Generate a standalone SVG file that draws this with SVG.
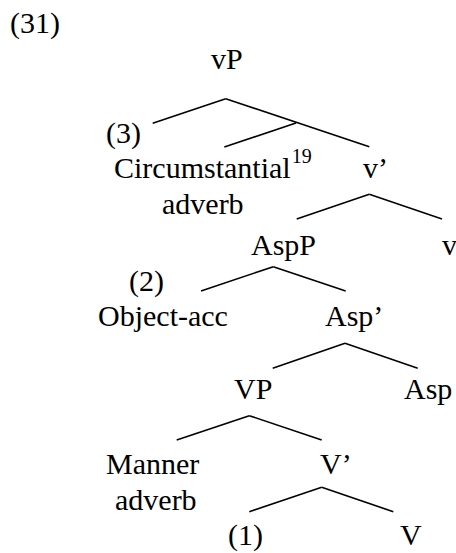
<svg xmlns="http://www.w3.org/2000/svg" width="456" height="553" viewBox="0 0 456 553" font-family="Liberation Serif, Times New Roman, serif">
<style>
.t{font-size:30px;fill:#000}
.sup{font-size:20px}
#connectors line{stroke:#000;stroke-width:1.6;stroke-linecap:butt}
</style>
<rect width="456" height="553" fill="#fff"/>
<g font-family="Liberation Serif, Times New Roman, serif" class="t">
<g id="label31"><text x="10" y="33">(31)</text></g>
<g id="vP"><text x="211" y="69">vP</text></g>
<g id="n3"><text x="106" y="143">(3)</text></g>
<g id="circ"><text x="114" y="178">Circumstantial<tspan class="sup" dx="1" dy="-15">19</tspan></text><text x="162" y="214">adverb</text></g>
<g id="vbar"><text x="363" y="178">v’</text></g>
<g id="AspP"><text x="251" y="255">AspP</text></g>
<g id="v"><text x="442" y="255">v</text></g>
<g id="n2"><text x="129" y="291">(2)</text></g>
<g id="obj"><text x="98" y="326">Object-acc</text></g>
<g id="Aspbar"><text x="325" y="326">Asp’</text></g>
<g id="VP"><text x="234" y="399">VP</text></g>
<g id="Asp"><text x="404" y="399">Asp</text></g>
<g id="manner"><text x="106" y="474">Manner</text><text x="115" y="510">adverb</text></g>
<g id="Vbar"><text x="320" y="474">V’</text></g>
<g id="n1"><text x="228" y="545">(1)</text></g>
<g id="V"><text x="400" y="545">V</text></g>
</g>
<g id="connectors">
<line x1="225.7" y1="98.7" x2="152.7" y2="123.3"/>
<line x1="225.7" y1="98.7" x2="369.3" y2="146.7"/>
<line x1="296" y1="123" x2="224.3" y2="147"/>
<line x1="369.3" y1="194.3" x2="296.7" y2="219"/>
<line x1="369.3" y1="194.3" x2="442" y2="219"/>
<line x1="273.3" y1="266.7" x2="201" y2="291"/>
<line x1="273.3" y1="266.7" x2="345.7" y2="291"/>
<line x1="345" y1="343.3" x2="272.7" y2="368.3"/>
<line x1="345" y1="343.3" x2="417.7" y2="368.3"/>
<line x1="249.3" y1="415.7" x2="176.7" y2="440"/>
<line x1="249.3" y1="415.7" x2="321.7" y2="440"/>
<line x1="321.7" y1="487.3" x2="249.3" y2="511.7"/>
<line x1="321.7" y1="487.3" x2="393.3" y2="511.7"/>
</g>
</svg>
